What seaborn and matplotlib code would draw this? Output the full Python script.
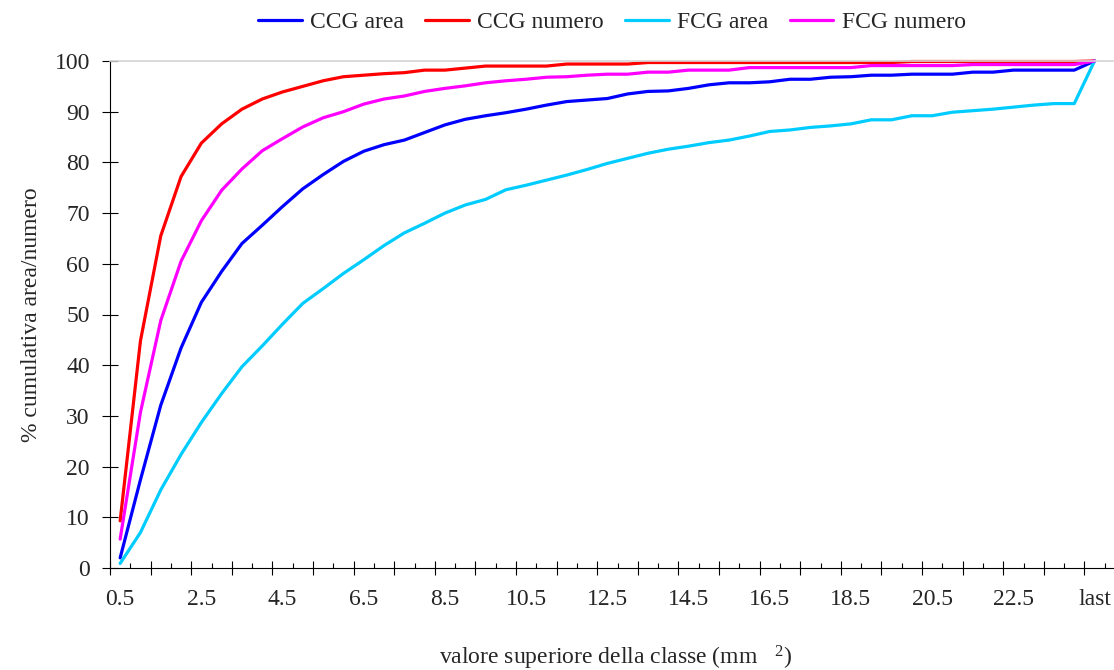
import pandas as pd
import matplotlib
matplotlib.use("Agg")
import matplotlib.pyplot as plt
import seaborn as sns

# classes (upper value of the class, mm^2)
classi = [
    "0.5", "1.0", "1.5", "2.0", "2.5", "3.0", "3.5", "4.0", "4.5", "5.0",
    "5.5", "6.0", "6.5", "7.0", "7.5", "8.0", "8.5", "9.0", "9.5", "10.0",
    "10.5", "11.0", "11.5", "12.0", "12.5", "13.0", "13.5", "14.0", "14.5", "15.0",
    "15.5", "16.0", "16.5", "17.0", "17.5", "18.0", "18.5", "19.0", "19.5", "20.0",
    "20.5", "21.0", "21.5", "22.0", "22.5", "23.0", "23.5", "24.0", "last",
]

ccg_area = [
    2.0, 17.4, 32.1, 43.4, 52.4, 58.5, 64.0, 67.6, 71.3, 74.8,
    77.6, 80.2, 82.2, 83.5, 84.4, 85.9, 87.4, 88.5, 89.2, 89.8,
    90.5, 91.3, 92.0, 92.3, 92.6, 93.5, 94.0, 94.1, 94.6, 95.3,
    95.7, 95.7, 95.9, 96.4, 96.4, 96.8, 96.9, 97.2, 97.2, 97.4,
    97.4, 97.4, 97.8, 97.8, 98.2, 98.2, 98.2, 98.2, 100.0,
]
ccg_numero = [
    9.3, 44.8, 65.5, 77.2, 83.8, 87.6, 90.5, 92.5, 93.9, 95.0,
    96.1, 96.9, 97.2, 97.5, 97.7, 98.2, 98.2, 98.6, 99.0, 99.0,
    99.0, 99.0, 99.4, 99.4, 99.4, 99.4, 99.7, 99.7, 99.7, 99.7,
    99.7, 99.7, 99.7, 99.7, 99.7, 99.7, 99.7, 99.7, 99.7, 99.9,
    99.9, 99.9, 99.9, 99.9, 99.9, 99.9, 99.9, 99.9, 100.0,
]
fcg_area = [
    0.9, 7.0, 15.4, 22.4, 28.7, 34.4, 39.7, 43.8, 48.1, 52.2,
    55.1, 58.1, 60.8, 63.6, 66.1, 68.0, 70.0, 71.6, 72.7, 74.6,
    75.5, 76.5, 77.5, 78.6, 79.8, 80.8, 81.8, 82.6, 83.2, 83.9,
    84.4, 85.2, 86.1, 86.4, 86.9, 87.2, 87.6, 88.4, 88.4, 89.2,
    89.2, 89.9, 90.2, 90.5, 90.9, 91.3, 91.6, 91.6, 100.0,
]
fcg_numero = [
    5.7, 30.7, 48.8, 60.5, 68.5, 74.5, 78.7, 82.3, 84.7, 87.0,
    88.8, 90.0, 91.5, 92.5, 93.1, 94.0, 94.6, 95.1, 95.7, 96.1,
    96.4, 96.8, 96.9, 97.2, 97.4, 97.4, 97.8, 97.8, 98.2, 98.2,
    98.2, 98.7, 98.7, 98.7, 98.7, 98.7, 98.7, 99.1, 99.1, 99.1,
    99.1, 99.1, 99.3, 99.3, 99.3, 99.3, 99.3, 99.3, 100.0,
]

serie = ["CCG area", "CCG numero", "FCG area", "FCG numero"]
colori = {
    "CCG area": "#0000FF",
    "CCG numero": "#FF0000",
    "FCG area": "#00CCFF",
    "FCG numero": "#FF00FF",
}
x_tick_labels = ["0.5", "2.5", "4.5", "6.5", "8.5", "10.5", "12.5",
                 "14.5", "16.5", "18.5", "20.5", "22.5", "last"]

frames = []
for nome, valori in zip(serie, [ccg_area, ccg_numero, fcg_area, fcg_numero]):
    frames.append(pd.DataFrame({"classe": classi, "valore": valori, "serie": nome}))
df = pd.concat(frames, ignore_index=True)

sns.set_theme(style="white")
plt.rcParams["font.family"] = ["Liberation Serif", "DejaVu Serif"]
plt.rcParams["mathtext.fontset"] = "custom"
plt.rcParams["mathtext.rm"] = "Liberation Serif"
plt.rcParams["mathtext.it"] = "Liberation Serif"

fig = plt.figure(figsize=(11.14, 6.70), dpi=100)
ax = fig.add_axes([110 / 1114, 102 / 670, 1004 / 1114, 507 / 670])

sns.lineplot(data=df, x="classe", y="valore", hue="serie", hue_order=serie,
             palette=colori, linewidth=2.3, sort=False, errorbar=None, ax=ax)
for line in ax.lines:
    line.set_clip_on(False)

n = len(classi)
ax.set_xlim(-0.5, -0.5 + 1004 / 20.3)
ax.set_ylim(0, 100)
ax.set_yticks(range(0, 101, 10))
ax.tick_params(axis="y", which="major", direction="inout", length=11, width=0.8,
               color="black", labelsize=17, pad=9, left=True)

# category boundaries: long crossing ticks every 2 classes, short inner ticks between
ax.set_xticks([k - 0.5 for k in range(0, n + 1, 2)])
ax.set_xticks([k - 0.5 for k in range(1, n + 1, 2)], minor=True)
ax.tick_params(axis="x", which="major", direction="inout", length=10, width=0.8,
               color="black", labelbottom=False, bottom=True)
ax.tick_params(axis="x", which="minor", direction="in", length=3.6, width=0.8,
               color="black", bottom=True)

sec = ax.secondary_xaxis("bottom")
sec.set_xticks(list(range(0, n, 4)), labels=x_tick_labels)
sec.tick_params(length=0, labelsize=17, pad=15)
sec.spines["bottom"].set_visible(False)

for side in ["left", "bottom"]:
    ax.spines[side].set_color("black")
    ax.spines[side].set_linewidth(0.8)
ax.spines["top"].set_color("#D4D4D4")
ax.spines["top"].set_linewidth(1.2)
ax.spines["right"].set_visible(False)

ax.set_xlabel("")
ax.set_ylabel("% cumulativa area/numero", fontsize=17)
ax.yaxis.set_label_coords(-0.068, 0.5)

fig.text(616 / 1114, 1 - 664 / 670, "valore superiore della classe (mm   $^{2}$)",
         ha="center", va="baseline", fontsize=17)

handles, labels = ax.get_legend_handles_labels()
ax.legend_.remove()
fig.legend(handles, labels, loc="center", bbox_to_anchor=(612 / 1114, 1 - 22 / 670),
           ncol=4, frameon=False, fontsize=17, handlelength=1.85,
           handletextpad=0.35, columnspacing=0.9)

fig.savefig("out.png", dpi=100)
